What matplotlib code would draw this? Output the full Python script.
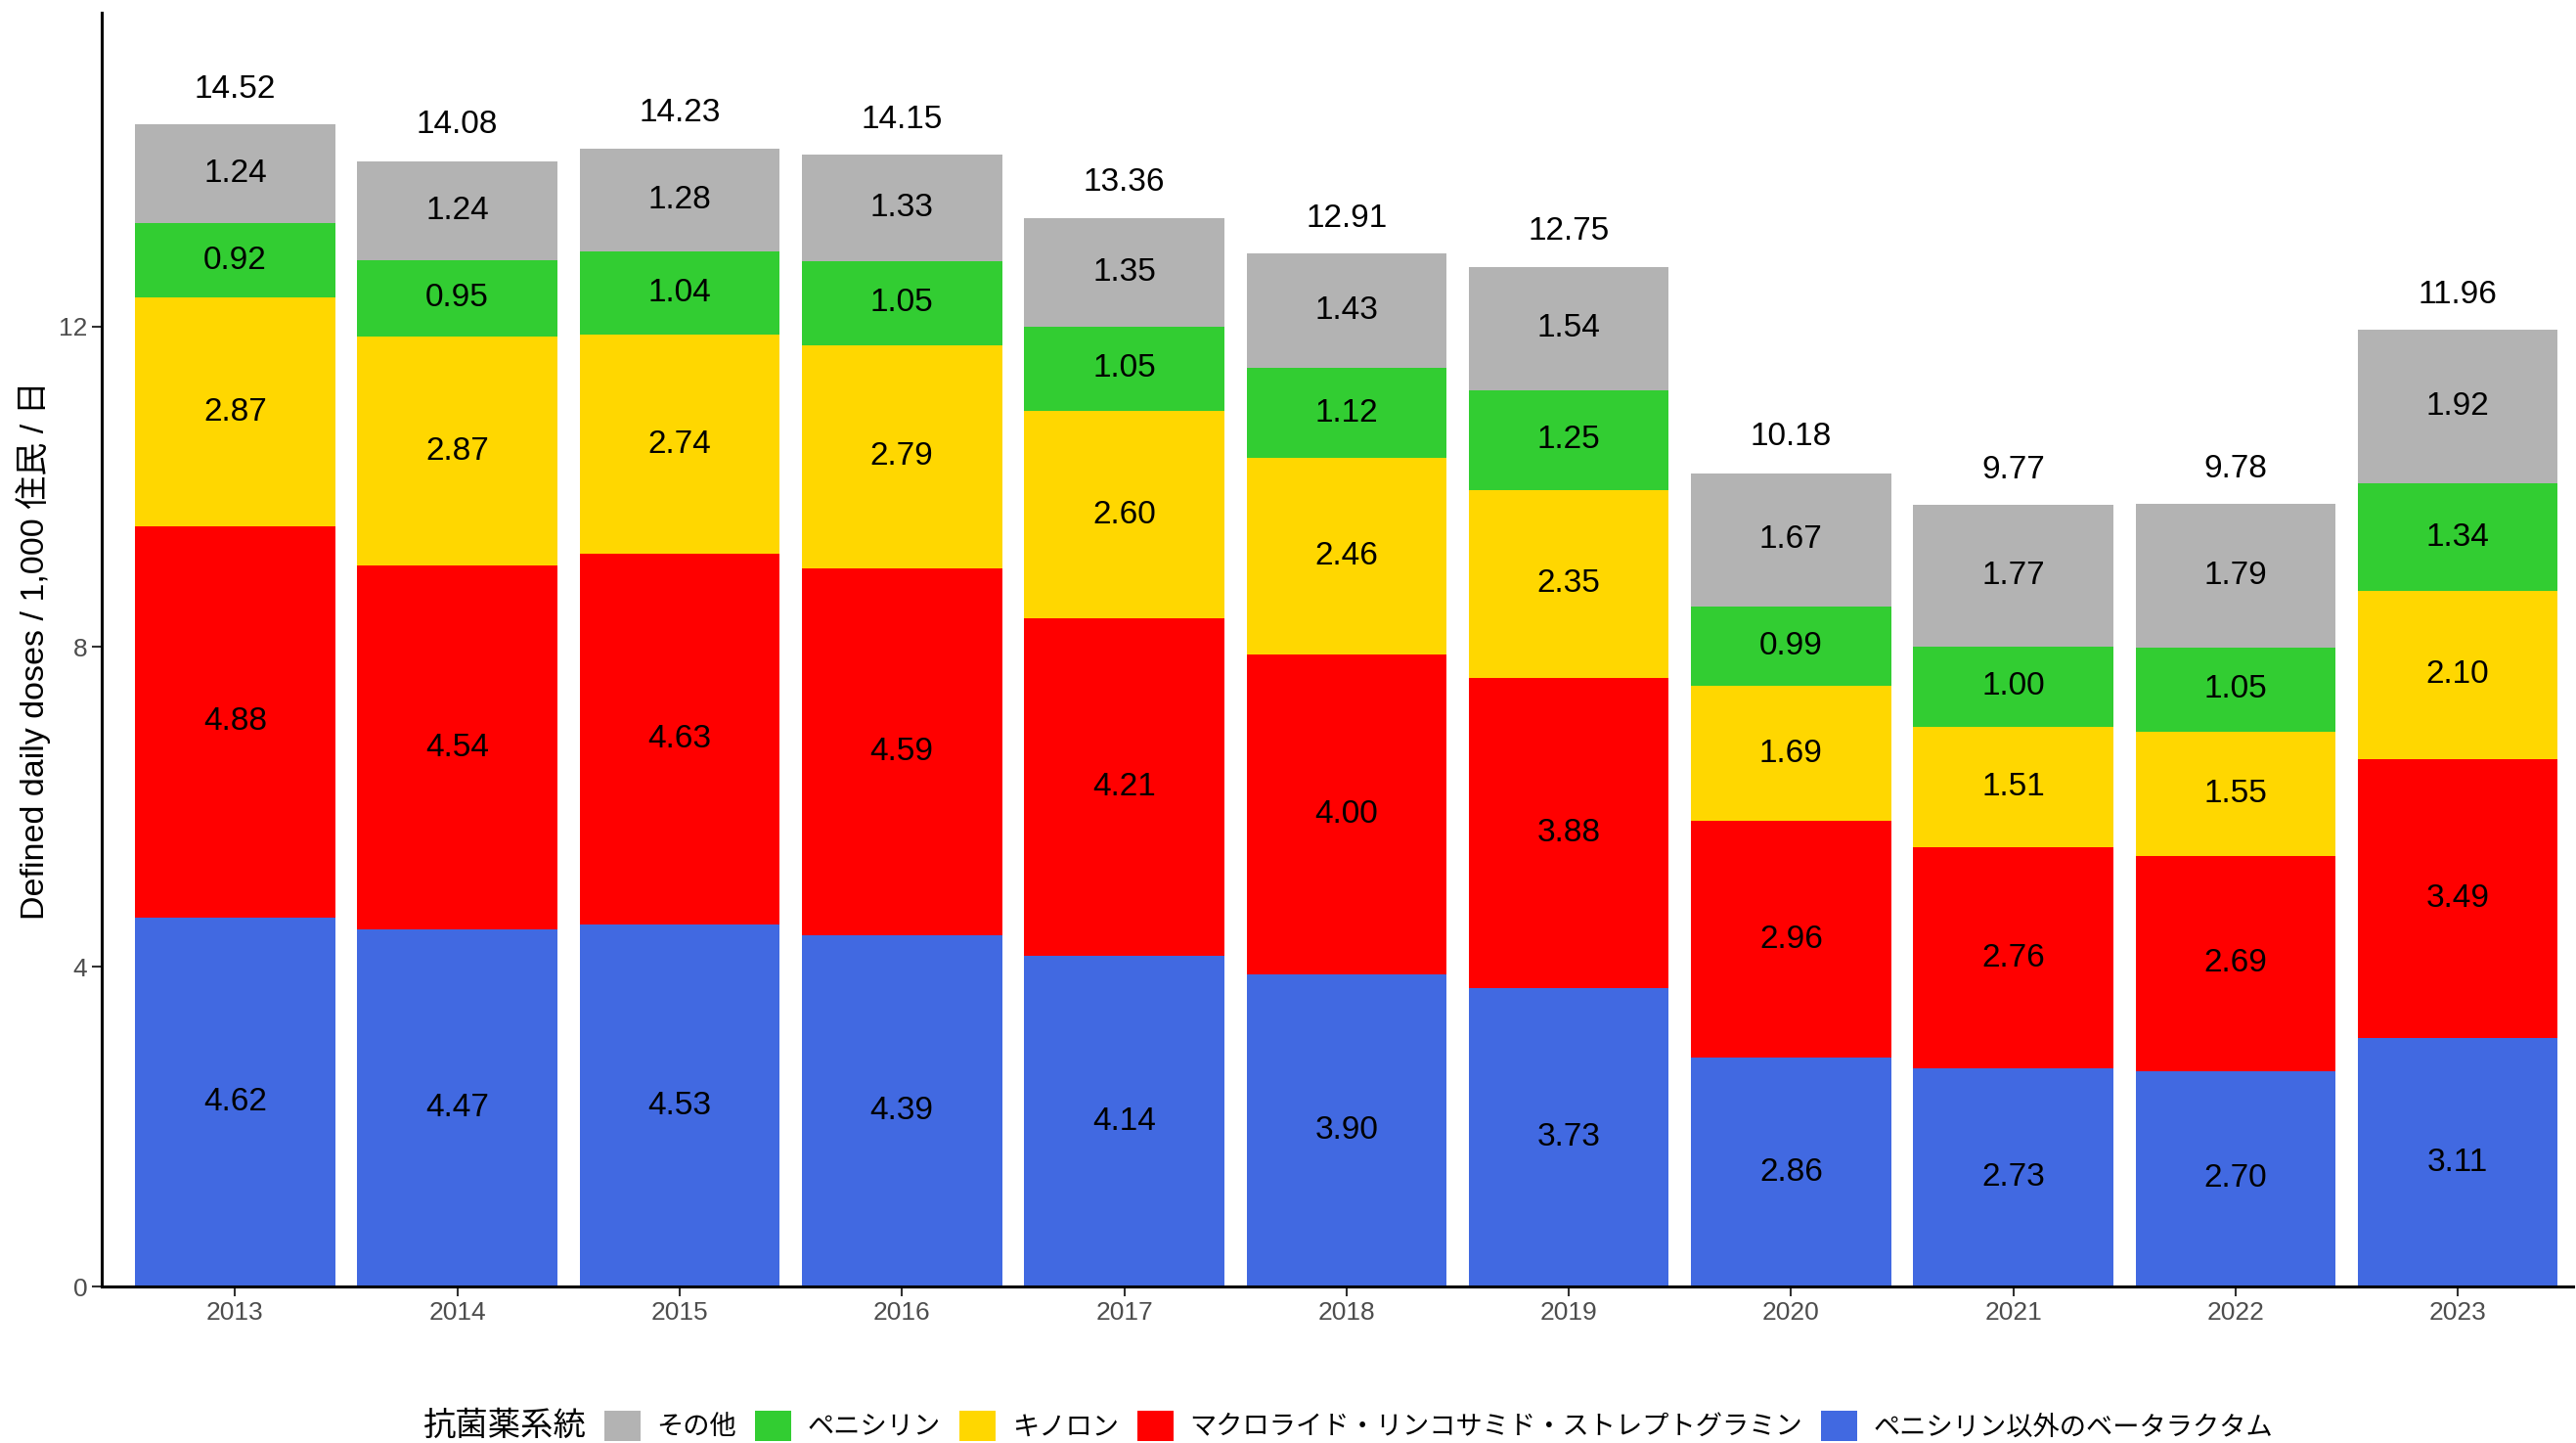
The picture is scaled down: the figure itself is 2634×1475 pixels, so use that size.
import numpy as np
import matplotlib
matplotlib.use('Agg')
import matplotlib.pyplot as plt
from matplotlib.patches import Patch

plt.rcParams['font.family'] = ['Liberation Sans', 'Noto Sans CJK JP', 'DejaVu Sans']

# data (DDD / 1,000 inhabitants / day)
years = ['2013', '2014', '2015', '2016', '2017', '2018', '2019', '2020', '2021', '2022', '2023']
beta_lactam = [4.62, 4.47, 4.53, 4.39, 4.14, 3.90, 3.73, 2.86, 2.73, 2.70, 3.11]
macrolide = [4.88, 4.54, 4.63, 4.59, 4.21, 4.00, 3.88, 2.96, 2.76, 2.69, 3.49]
quinolone = [2.87, 2.87, 2.74, 2.79, 2.60, 2.46, 2.35, 1.69, 1.51, 1.55, 2.10]
penicillin = [0.92, 0.95, 1.04, 1.05, 1.05, 1.12, 1.25, 0.99, 1.00, 1.05, 1.34]
other = [1.24, 1.24, 1.28, 1.33, 1.35, 1.43, 1.54, 1.67, 1.77, 1.79, 1.92]
totals = [14.52, 14.08, 14.23, 14.15, 13.36, 12.91, 12.75, 10.18, 9.77, 9.78, 11.96]

# stacking order, bottom to top
series = [
    ('ペニシリン以外のベータラクタム', beta_lactam, '#4169E1'),
    ('マクロライド・リンコサミド・ストレプトグラミン', macrolide, '#FF0000'),
    ('キノロン', quinolone, '#FFD700'),
    ('ペニシリン', penicillin, '#32CD32'),
    ('その他', other, '#B3B3B3'),
]

fig = plt.figure(figsize=(26.34, 14.75), dpi=100)
ax = fig.add_axes([0.0395, 0.1082, 0.9595, 0.8828])

x = np.arange(len(years))
bottom = np.zeros(len(years))
for name, vals, col in series:
    vals = np.array(vals)
    ax.bar(x, vals, width=0.9, bottom=bottom, color=col, edgecolor='none', label=name)
    for xi, b, v in zip(x, bottom, vals):
        ax.text(xi, b + v / 2, f'{v:.2f}', ha='center', va='center', fontsize=24, color='black')
    bottom += vals

for xi, t in zip(x, totals):
    ax.text(xi, t + 0.25, f'{t:.2f}', ha='center', va='bottom', fontsize=24, color='black')

ax.set_xlim(-0.6, 10.52)
ax.set_ylim(0, 15.92)
ax.set_xticks(x)
ax.set_xticklabels(years)
ax.set_yticks([0, 4, 8, 12])
ax.tick_params(axis='both', labelsize=19, labelcolor='#4D4D4D', color='#333333', length=7, width=1.5)
ax.set_ylabel('Defined daily doses / 1,000 住民 / 日', fontsize=24.5, labelpad=6)

for s in ['top', 'right']:
    ax.spines[s].set_visible(False)
for s in ['left', 'bottom']:
    ax.spines[s].set_linewidth(2.2)
    ax.spines[s].set_color('black')

# legend: title on the left, keys in reference order
fig.text(0.164, 0.012, '抗菌薬系統', fontsize=24, ha='left', va='center',
         family=['Noto Sans CJK JP', 'DejaVu Sans'])
handles = [Patch(facecolor=col, edgecolor='none', label=name) for name, vals, col in series[::-1]]
fig.legend(handles=handles, loc='center left', bbox_to_anchor=(0.2345, 0.012), ncol=5,
           frameon=False, borderpad=0, borderaxespad=0,
           handlelength=1.37, handleheight=1.37, handletextpad=0.6, columnspacing=0.7,
           prop={'family': ['Noto Sans CJK JP', 'DejaVu Sans'], 'size': 19.6})

fig.savefig('out.png', dpi=100)
